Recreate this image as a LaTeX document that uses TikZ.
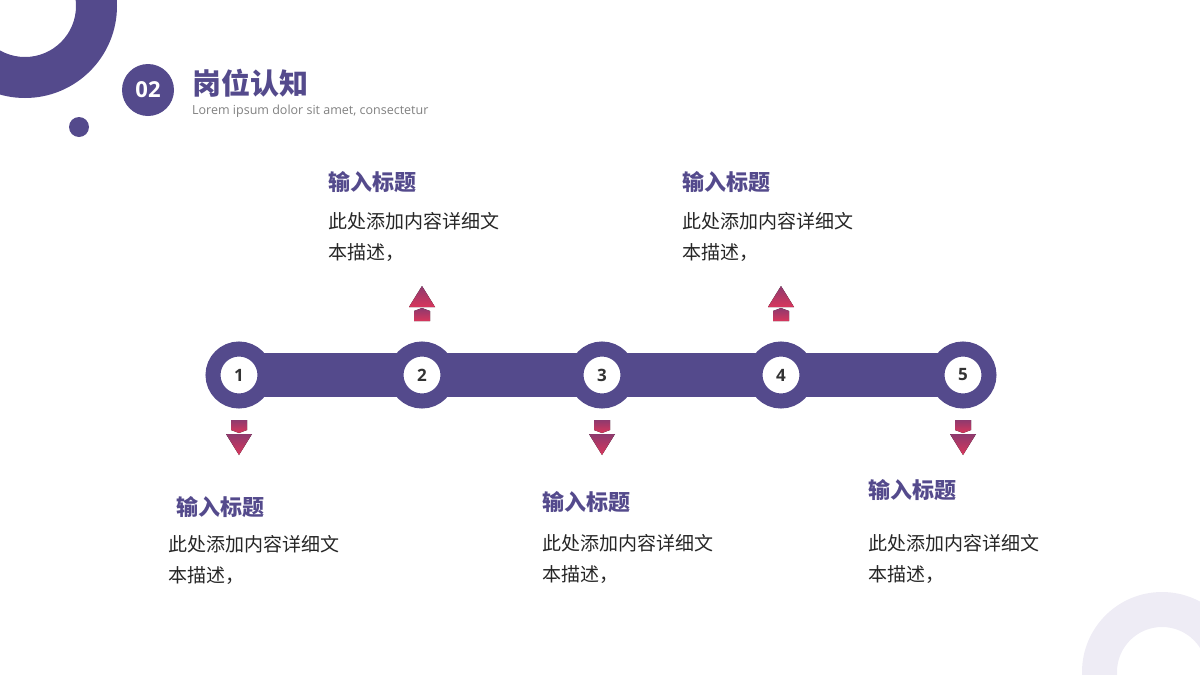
\documentclass[tikz,border=0pt]{standalone}
\usepackage{fontspec}
\setmainfont{Open Sans}
\newfontfamily\cjk{Noto Sans CJK SC}
\usetikzlibrary{positioning}
\definecolor{main}{HTML}{544A8C}
\definecolor{light}{HTML}{EEECF5}
\definecolor{arrowtop}{HTML}{8E3A6E}
\definecolor{arrowbot}{HTML}{D8365C}
\tikzset{
  stop/.style={circle,draw=main,line width=15pt,fill=white,minimum size=52pt,inner sep=0pt,
    font=\bfseries\fontsize{17}{17}\selectfont,text=black!80},
  heading/.style={anchor=north west,inner sep=0pt,text=main,font=\cjk\bfseries\fontsize{22}{22}\selectfont},
  body/.style={anchor=north west,inner sep=0pt,align=left,text=black!85,
    font=\cjk\fontsize{19}{31}\selectfont},
  pics/marker/.style={code={
    \fill[top color=arrowtop,bottom color=arrowbot] (0,-15) -- (13,6) -- (-13,6) -- cycle;
    \fill[top color=arrowtop,bottom color=arrowbot] (-8,10) -- (0,7) -- (8,10) -- (8,20) -- (-8,20) -- cycle;
  }}
}
\begin{document}
\begin{tikzpicture}[x=1pt,y=-1pt]
\useasboundingbox (0,0) rectangle (1200,675);
% decorations
\fill[main,even odd rule] (25,6) circle (92) (25,6) circle (51);
\fill[main] (79,127) circle (10);
\fill[light,even odd rule] (1162,672) circle (80) (1162,672) circle (45);
% title
\node[circle,fill=main,minimum size=52pt,inner sep=0pt,text=white,font=\bfseries\fontsize{22}{22}\selectfont] (num) at (148,90) {02};
\node[anchor=west,inner sep=0pt,text=main,font=\cjk\bfseries\fontsize{29}{29}\selectfont] (title) at (192,83) {岗位认知};
\node[anchor=west,inner sep=0pt,text=black!50,font=\fontsize{12.5}{12.5}\selectfont] (sub) at (192,111) {Lorem ipsum dolor sit amet, consectetur};
% timeline
\fill[main] (240,353) rectangle (963,397);
\foreach \n/\x in {1/239,2/422,3/602,4/781,5/963}
  \node[stop] (c\n) at (\x,375) {\n};
% arrows
\pic at (422,301) {marker};
\pic at (781,301) {marker};
\pic[yscale=-1] at (239,440) {marker};
\pic[yscale=-1] at (602,440) {marker};
\pic[yscale=-1] at (963,440) {marker};
% texts
\node[heading] (h2) at (328,171) {输入标题};
\node[body] (b2) at (328,212) {此处添加内容详细文\\本描述，};
\node[heading] (h4) at (682,171) {输入标题};
\node[body] (b4) at (682,212) {此处添加内容详细文\\本描述，};
\node[heading] (h1) at (176,496) {输入标题};
\node[body] (b1) at (168,535) {此处添加内容详细文\\本描述，};
\node[heading] (h3) at (542,491) {输入标题};
\node[body] (b3) at (542,534) {此处添加内容详细文\\本描述，};
\node[heading] (h5) at (868,479) {输入标题};
\node[body] (b5) at (868,534) {此处添加内容详细文\\本描述，};
\end{tikzpicture}
\end{document}
